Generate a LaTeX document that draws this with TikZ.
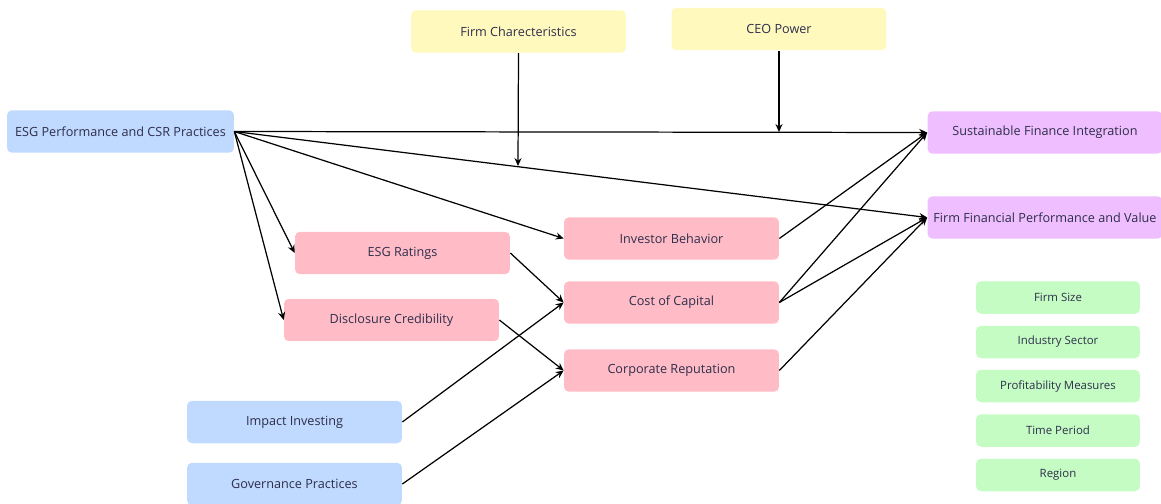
\documentclass[tikz,border=0pt]{standalone}
\usepackage{fontspec}
\setmainfont{Open Sans}
\usepackage{xcolor}
\usetikzlibrary{arrows.meta}
\definecolor{BoxBlue}{HTML}{C0D9FE}
\definecolor{BoxYellow}{HTML}{FFF9BE}
\definecolor{BoxPink}{HTML}{FFBCC6}
\definecolor{BoxPurple}{HTML}{EFBEFE}
\definecolor{BoxGreen}{HTML}{C5FCC3}
\definecolor{TextNavy}{HTML}{2E2E4C}
\tikzset{
  box/.style={rounded corners=0.1cm, inner sep=0pt, text=TextNavy,
    font=\fontsize{7.2}{8}\selectfont, minimum width=4.3cm, minimum height=0.85cm},
  bluebox/.style={box, fill=BoxBlue},
  yellowbox/.style={box, fill=BoxYellow},
  pinkbox/.style={box, fill=BoxPink},
  purplebox/.style={box, fill=BoxPurple, minimum width=4.7cm},
  greenbox/.style={box, fill=BoxGreen, font=\fontsize{6.5}{7}\selectfont,
    minimum width=3.28cm, minimum height=0.65cm},
  link/.style={-{Stealth[length=4.5pt, width=4pt]}, line width=0.7pt, black}
}

\begin{document}
\begin{tikzpicture}[x=0.02cm, y=-0.02cm]

\useasboundingbox (0,0) rectangle (1161,504);

% Top moderators
\node[yellowbox] (firmchar) at (518.5,31.5) {Firm Charecteristics};
\node[yellowbox] (ceo) at (779,29) {CEO Power};

% Left inputs
\node[bluebox, minimum width=4.54cm] (esg) at (120.5,131.5) {ESG Performance and CSR Practices};
\node[bluebox] (impact) at (294.5,422) {Impact Investing};
\node[bluebox] (gov) at (294.5,484) {Governance Practices};

% Mediators
\node[pinkbox] (ratings) at (402.5,253) {ESG Ratings};
\node[pinkbox] (disclosure) at (391.5,320) {Disclosure Credibility};
\node[pinkbox] (investor) at (671.5,238.5) {Investor Behavior};
\node[pinkbox] (capital) at (671.5,302.5) {Cost of Capital};
\node[pinkbox] (reputation) at (671.5,370.5) {Corporate Reputation};

% Outcomes
\node[purplebox] (sfi) at (1045,132.5) {Sustainable Finance Integration};
\node[purplebox] (ffpv) at (1045,217.5) {Firm Financial Performance and Value};

% Controls
\node[greenbox] (size) at (1058,297.5) {Firm Size};
\node[greenbox] (sector) at (1058,342) {Industry Sector};
\node[greenbox] (profit) at (1058,386) {Profitability Measures};
\node[greenbox] (period) at (1058,430.5) {Time Period};
\node[greenbox] (region) at (1058,475) {Region};

% Points where the moderators meet the direct paths
\coordinate (ceohit) at (779,132);
\coordinate (firmhit) at (518,166);

% Direct paths
\draw[link] (esg.east) -- (sfi.west);
\draw[link] (esg.east) -- (ffpv.west);
\draw[link] (esg.east) -- (investor.west);
\draw[link] (esg.east) -- (ratings.west);
\draw[link] (esg.east) -- (disclosure.west);
\draw[link] (ceo.south) -- (ceohit);
\draw[link] (firmchar.south) -- (firmhit);

% Into the mediators
\draw[link] (ratings.east) -- (capital.west);
\draw[link] (disclosure.east) -- (reputation.west);
\draw[link] (impact.east) -- (capital.west);
\draw[link] (gov.east) -- (reputation.west);

% Into the outcomes
\draw[link] (investor.east) -- (sfi.west);
\draw[link] (capital.east) -- (sfi.west);
\draw[link] (capital.east) -- (ffpv.west);
\draw[link] (reputation.east) -- (ffpv.west);

\end{tikzpicture}
\end{document}
